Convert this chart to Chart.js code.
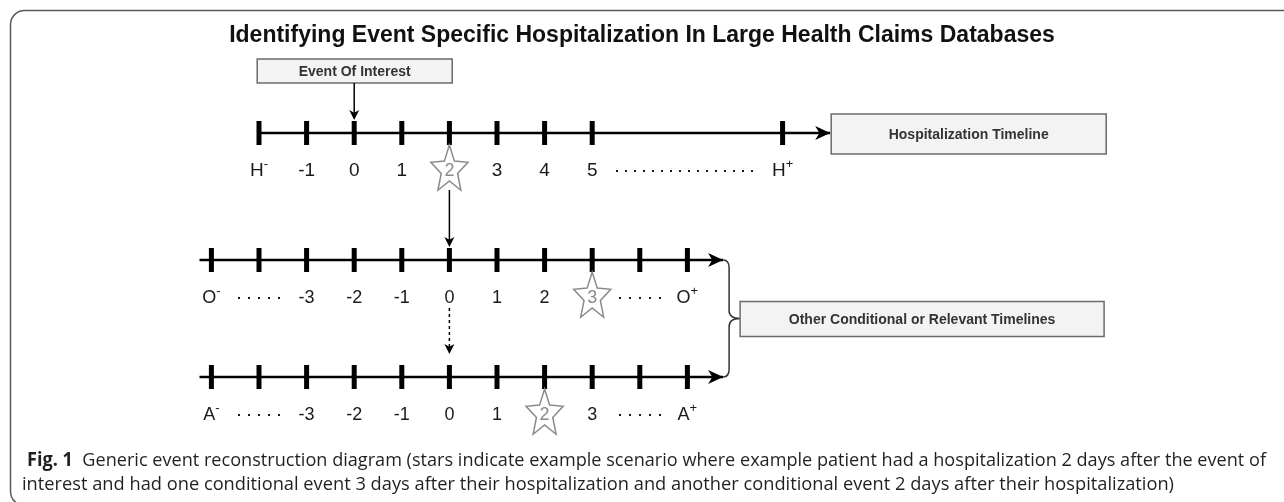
<!DOCTYPE html>
<html>
<head>
<meta charset="utf-8">
<script src="https://cdn.jsdelivr.net/npm/chart.js@4"></script>
<style>
  html, body { margin: 0; padding: 0; background: #fff; }
  #wrap { width: 1284px; height: 502px; position: relative; }
</style>
</head>
<body>
<div id="wrap"><canvas id="chart"></canvas></div>
<script>
// timeline positions are in "tick steps" along the shared x scale
const hTicks = [0, 1, 2, 3, 4, 5, 6, 7, 11];
const hLabelPos = [0, 1, 2, 3, 4, 5, 6, 7, 8.94, 11];
const hLabels = ['H⁻', '-1', '0', '1', '2', '3', '4', '5', '................', 'H⁺'];
const hLine = [0, 12];

const oTicks = [-1, 0, 1, 2, 3, 4, 5, 6, 7, 8, 9];
const oLabels = ['O⁻', '.....', '-3', '-2', '-1', '0', '1', '2', '3', '.....', 'O⁺'];
const oLine = [-1.25, 9.75];

const aTicks = [-1, 0, 1, 2, 3, 4, 5, 6, 7, 8, 9];
const aLabels = ['A⁻', '.....', '-3', '-2', '-1', '0', '1', '2', '3', '.....', 'A⁺'];
const aLine = [-1.25, 9.75];

// where the stars sit (hospitalization day 2, conditional day 3, other day 2)
const hStarAt = 4;
const oStarAt = 7;
const aStarAt = 6;
const eventAt = 2;     // event of interest on hospitalization timeline
const linkAt = 4;      // hospitalization day links to day 0 of the other timelines

const titleText = 'Identifying Event Specific Hospitalization In Large Health Claims Databases';
const boxTexts = ['Event Of Interest', 'Hospitalization Timeline', 'Other Conditional or Relevant Timelines'];
const captionBold = 'Fig. 1';
const captionLine1 = 'Generic event reconstruction diagram (stars indicate example scenario where example patient had a hospitalization 2 days after the event of';
const captionLine2 = 'interest and had one conditional event 3 days after their hospitalization and another conditional event 2 days after their hospitalization)';

// layout (pixels on the y scale, which runs 0..502 top to bottom)
const ROW = { h: 133, o: 260, a: 377 };
const LABEL_DY = 37;
const FONT = '"Liberation Sans", Arial, sans-serif';

function pts(xs, y) { return xs.map(x => ({ x: x, y: y })); }

function arrowHead(ctx, tx, ty, dir, len, half) {
    ctx.save();
    ctx.translate(tx, ty);
    if (dir === 'down') ctx.rotate(Math.PI / 2);
    ctx.beginPath();
    ctx.moveTo(0, 0);
    ctx.lineTo(-len, -half);
    ctx.lineTo(-len * 0.72, 0);
    ctx.lineTo(-len, half);
    ctx.closePath();
    ctx.fillStyle = '#000';
    ctx.fill();
    ctx.restore();
}

function drawStar(ctx, cx, cy, num) {
    const R = 25, r = 11, sx = 0.78;
    ctx.save();
    ctx.beginPath();
    for (let i = 0; i < 10; i++) {
        const ang = -Math.PI / 2 + i * Math.PI / 5;
        const rad = i % 2 === 0 ? R : r;
        const px = cx + Math.cos(ang) * rad * sx;
        const py = cy + Math.sin(ang) * rad;
        if (i === 0) ctx.moveTo(px, py); else ctx.lineTo(px, py);
    }
    ctx.closePath();
    ctx.fillStyle = '#fff';
    ctx.fill();
    ctx.strokeStyle = '#8a8a8a';
    ctx.lineWidth = 1.5;
    ctx.stroke();
    ctx.fillStyle = '#8a8a8a';
    ctx.font = '18px ' + FONT;
    ctx.textAlign = 'center';
    ctx.textBaseline = 'middle';
    ctx.fillText(num, cx, cy + 1);
    ctx.restore();
}

function drawLabel(ctx, txt, cx, cy, size) {
    ctx.save();
    ctx.fillStyle = '#1a1a1a';
    ctx.textBaseline = 'middle';
    if (/^\.+$/.test(txt)) {
        const n = txt.length, gap = n > 8 ? 9 : 10;
        const start = cx - (n - 1) * gap / 2;
        for (let i = 0; i < n; i++) ctx.fillRect(Math.round(start + i * gap) - 1, cy, 2, 2);
    } else if (/[⁻⁺]$/.test(txt)) {
        const base = txt.slice(0, -1);
        const sup = txt.endsWith('⁻') ? '-' : '+';
        ctx.font = size + 'px ' + FONT;
        const wb = ctx.measureText(base).width;
        ctx.font = Math.round(size * 0.7) + 'px ' + FONT;
        const ws = ctx.measureText(sup).width;
        const left = cx - (wb + ws) / 2;
        ctx.textAlign = 'left';
        ctx.font = size + 'px ' + FONT;
        ctx.fillText(base, left, cy + 1);
        ctx.font = Math.round(size * 0.7) + 'px ' + FONT;
        ctx.fillText(sup, left + wb, cy - size * 0.3);
    } else {
        ctx.font = size + 'px ' + FONT;
        ctx.textAlign = 'center';
        ctx.fillText(txt, cx, cy + 1);
    }
    ctx.restore();
}

function drawBox(ctx, x0, y0, w, h, txt, size) {
    ctx.save();
    ctx.fillStyle = '#f3f3f3';
    ctx.fillRect(x0, y0, w, h);
    ctx.strokeStyle = '#6b6b6b';
    ctx.lineWidth = 1.5;
    ctx.strokeRect(x0, y0, w, h);
    ctx.fillStyle = '#333';
    ctx.font = 'bold ' + size + 'px ' + FONT;
    ctx.textAlign = 'center';
    ctx.textBaseline = 'middle';
    ctx.fillText(txt, x0 + w / 2, y0 + h / 2 + 1);
    ctx.restore();
}

function vArrow(ctx, x, y0, y1, dashed) {
    ctx.save();
    ctx.strokeStyle = '#000';
    ctx.lineWidth = 1.5;
    if (dashed) ctx.setLineDash([3, 3]);
    ctx.beginPath();
    ctx.moveTo(x, y0);
    ctx.lineTo(x, y1 - 6);
    ctx.stroke();
    ctx.restore();
    arrowHead(ctx, x, y1, 'down', 10, 5);
}

function fitText(ctx, parts, x0, x1, y) {
    // parts: [{text, font}] drawn in a row, squeezed horizontally to span x0..x1
    let total = 0;
    parts.forEach(p => { ctx.font = p.font; p.w = ctx.measureText(p.text).width; total += p.w; });
    const s = (x1 - x0) / total;
    ctx.save();
    ctx.translate(x0, y);
    ctx.scale(s, 1);
    ctx.textAlign = 'left';
    ctx.textBaseline = 'middle';
    ctx.fillStyle = '#231f20';
    let cx = 0;
    parts.forEach(p => { ctx.font = p.font; ctx.fillText(p.text, cx, 0); cx += p.w; });
    ctx.restore();
}

const diagram = {
    id: 'diagram',
    beforeDraw(chart) {
        const ctx = chart.ctx;
        ctx.save();
        ctx.fillStyle = '#fff';
        ctx.fillRect(0, 0, chart.width, chart.height);
        ctx.restore();
    },
    afterDatasetsDraw(chart) {
        const ctx = chart.ctx;
        const xs = chart.scales.x, ys = chart.scales.y;
        const X = v => xs.getPixelForValue(v);
        const Y = v => ys.getPixelForValue(v);

        // frame
        ctx.save();
        ctx.strokeStyle = '#5a5a5a';
        ctx.lineWidth = 1.5;
        ctx.beginPath();
        ctx.roundRect(10.5, 10.5, 1300, 495, 14);
        ctx.stroke();
        ctx.restore();

        // title
        ctx.save();
        ctx.fillStyle = '#111';
        ctx.font = 'bold 23px ' + FONT;
        ctx.textAlign = 'center';
        ctx.textBaseline = 'middle';
        ctx.fillText(titleText, 642, 36);
        ctx.restore();

        // arrowheads at the end of each timeline
        [[hLine, ROW.h], [oLine, ROW.o], [aLine, ROW.a]].forEach(([ln, r]) => {
            arrowHead(ctx, X(ln[1]), Y(r), 'right', 15, 7);
        });

        // labels + stars
        const rows = [
            { pos: hLabelPos, labels: hLabels, y: ROW.h, star: hStarAt, size: 19 },
            { pos: oTicks, labels: oLabels, y: ROW.o, star: oStarAt, size: 18 },
            { pos: aTicks, labels: aLabels, y: ROW.a, star: aStarAt, size: 18 }
        ];
        rows.forEach(row => {
            row.pos.forEach((p, i) => {
                const cx = X(p), cy = Y(row.y + LABEL_DY);
                if (p === row.star) drawStar(ctx, cx, cy, row.labels[i]);
                else drawLabel(ctx, row.labels[i], cx, cy, row.size);
            });
        });

        // event of interest box and arrow
        const ex = X(eventAt);
        drawBox(ctx, ex - 97, 59, 195, 24, boxTexts[0], 14);
        vArrow(ctx, ex, 83, Y(ROW.h) - 13, false);

        // hospitalization timeline box
        drawBox(ctx, X(hLine[1]) + 1, 114, 275, 40, boxTexts[1], 14);

        // hospitalization day -> other timeline day 0
        const lx = X(linkAt);
        vArrow(ctx, lx, Y(ROW.h + LABEL_DY) + 20, Y(ROW.o) - 13, false);
        vArrow(ctx, lx, Y(ROW.o + LABEL_DY) + 11, Y(ROW.a) - 23, true);

        // brace joining the two lower timelines
        const bx = X(oLine[1]), t = Y(ROW.o), b = Y(ROW.a), m = (t + b) / 2;
        ctx.save();
        ctx.strokeStyle = '#333';
        ctx.lineWidth = 1.5;
        ctx.beginPath();
        ctx.moveTo(bx, t);
        ctx.quadraticCurveTo(bx + 6, t, bx + 6, t + 8);
        ctx.lineTo(bx + 6, m - 8);
        ctx.quadraticCurveTo(bx + 6, m, bx + 17, m);
        ctx.quadraticCurveTo(bx + 6, m, bx + 6, m + 8);
        ctx.lineTo(bx + 6, b - 8);
        ctx.quadraticCurveTo(bx + 6, b, bx, b);
        ctx.stroke();
        ctx.restore();
        drawBox(ctx, bx + 17, m - 17, 364, 35, boxTexts[2], 14);

        // caption
        fitText(ctx, [
            { text: captionBold, font: 'bold 19px "Open Sans", sans-serif' },
            { text: '  ' + captionLine1, font: '19px "Open Sans", sans-serif' }
        ], 27, 1266, 461);
        fitText(ctx, [
            { text: captionLine2, font: '19px "Open Sans", sans-serif' }
        ], 22, 1174, 485);
    }
};

const lineDs = (xs, y) => ({
    type: 'line', data: pts(xs, y), borderColor: '#000', borderWidth: 2.5,
    pointRadius: 0, fill: false, tension: 0
});
const tickDs = (xs, y) => ({
    type: 'scatter', data: pts(xs, y), pointStyle: 'line', rotation: 90,
    pointRadius: 12, borderColor: '#000', pointBorderWidth: 5, borderWidth: 5
});

new Chart(document.getElementById('chart'), {
    type: 'scatter',
    data: {
        datasets: [
            lineDs(hLine, ROW.h), lineDs(oLine, ROW.o), lineDs(aLine, ROW.a),
            tickDs(hTicks, ROW.h), tickDs(oTicks, ROW.o), tickDs(aTicks, ROW.a)
        ]
    },
    options: {
        responsive: true,
        maintainAspectRatio: false,
        animation: false,
        events: [],
        layout: { autoPadding: false, padding: { left: 21, right: 25.4, top: 0, bottom: 0 } },
        plugins: { legend: { display: false }, tooltip: { enabled: false } },
        scales: {
            x: { type: 'linear', min: -5, max: 21, display: false },
            y: { type: 'linear', min: 0, max: 502, reverse: true, display: false }
        }
    },
    plugins: [diagram]
});
</script>
</body>
</html>
